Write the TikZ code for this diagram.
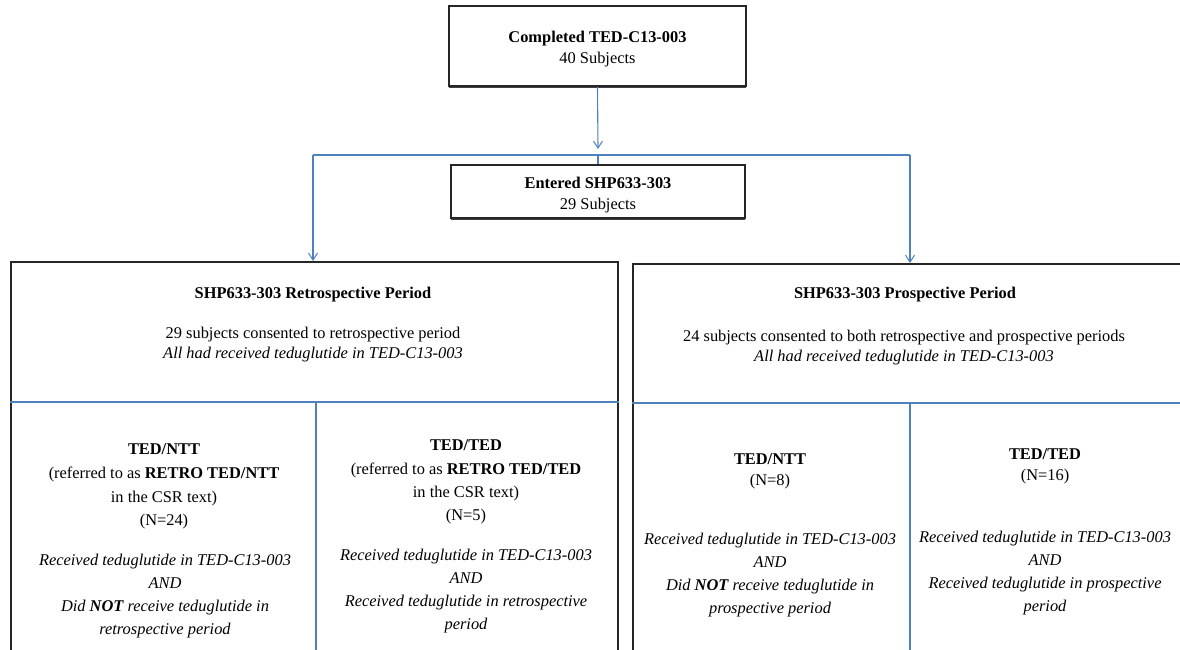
\documentclass[tikz,border=0pt]{standalone}
\usepackage{fontspec}
\setmainfont{Liberation Serif}
\usetikzlibrary{arrows.meta,shadows}
\definecolor{lineblue}{HTML}{4F81BD}
\definecolor{boxgray}{HTML}{262626}
\begin{document}
\begin{tikzpicture}[x=1pt,y=-1pt,
  txt/.style={align=center,font=\fontsize{16.4}{23}\selectfont,inner sep=0pt},
  smallbox/.style={draw=boxgray,line width=1.5pt,fill=white,align=center,
     font=\fontsize{16.4}{21}\selectfont,inner sep=0pt,
     drop shadow={shadow xshift=0pt,shadow yshift=-1.6pt,fill=black!75,opacity=1}},
  bigbox/.style={draw=boxgray,line width=1.5pt,inner sep=0pt},
  conn/.style={draw=lineblue,line width=1.1pt},
  arr/.style={conn,-{Straight Barb[length=7pt,width=9pt,line width=1pt]}},
  div/.style={draw=lineblue,line width=1.3pt}]
\useasboundingbox (0,0) rectangle (1180,649);
\begin{scope}
\clip (0,0) rectangle (1180,649);
% boxes
\node[smallbox,minimum width=297pt,minimum height=80pt] (top) at (597.5,46) {};
\node[txt,font=\fontsize{16.4}{21}\selectfont] (toptxt) at (597.5,49.5)
  {\textbf{Completed TED-C13-003}\\40 Subjects};
\node[smallbox,minimum width=294pt,minimum height=53pt] (entered) at (598,191.5) {};
\node[txt,font=\fontsize{16.4}{21}\selectfont] (enttxt) at (598,195)
  {\textbf{Entered SHP633-303}\\29 Subjects};
\node[bigbox,minimum width=607pt,minimum height=410pt,anchor=north west] (retro) at (10,261) {};
\node[bigbox,minimum width=570pt,minimum height=410pt,anchor=north west] (prosp) at (632,263) {};
% dividers
\draw[div] (retro.west |- 0,402) -- (retro.east |- 0,402);
\draw[div] (316,402) -- (316,660);
\draw[div] (prosp.west |- 0,403) -- (1190,403);
\draw[div] (910,403) -- (910,660);
% connectors
\coordinate (atip) at (598,149);
\coordinate (hl) at (313,155);
\coordinate (hm) at (598,155);
\coordinate (hr) at (910,155);
\draw[arr] (top.south) -- (atip);
\draw[conn] (hl) -- (hr);
\draw[conn] (hm) -- (entered.north);
\draw[arr] (hl) -- (hl |- retro.north);
\draw[arr] (hr) -- (hr |- prosp.north);
% upper texts
\node[txt] (rtitle) at (313,295) {\textbf{SHP633-303 Retrospective Period}};
\node[txt,font=\fontsize{16.4}{20}\selectfont] (rdesc) at (313,345)
  {29 subjects consented to retrospective period\\\textit{All had received teduglutide in TED-C13-003}};
\node[txt] (ptitle) at (905,295) {\textbf{SHP633-303 Prospective Period}};
\node[txt,font=\fontsize{16.4}{20}\selectfont] (pdesc) at (904,348)
  {24 subjects consented to both retrospective and prospective periods\\\textit{All had received teduglutide in TED-C13-003}};
% lower cells
\node[txt,font=\fontsize{16.4}{23.7}\selectfont] (c1a) at (164,486.5)
  {\textbf{TED/NTT}\\(referred to as \textbf{RETRO TED/NTT}\\in the CSR text)\\(N=24)};
\node[txt,font=\itshape\fontsize{16.4}{23}\selectfont] (c1b) at (165,596.5)
  {Received teduglutide in TED-C13-003\\AND\\Did \textbf{NOT} receive teduglutide in\\retrospective period};
\node[txt,font=\fontsize{16.4}{23.3}\selectfont] (c2a) at (466,482)
  {\textbf{TED/TED}\\(referred to as \textbf{RETRO TED/TED}\\in the CSR text)\\(N=5)};
\node[txt,font=\itshape\fontsize{16.4}{23}\selectfont] (c2b) at (466,591.5)
  {Received teduglutide in TED-C13-003\\AND\\Received teduglutide in retrospective\\period};
\node[txt,font=\fontsize{16.4}{21}\selectfont] (c3a) at (770,471.5)
  {\textbf{TED/NTT}\\(N=8)};
\node[txt,font=\itshape\fontsize{16.4}{23}\selectfont] (c3b) at (770,575.5)
  {Received teduglutide in TED-C13-003\\AND\\Did \textbf{NOT} receive teduglutide in\\prospective period};
\node[txt,font=\fontsize{16.4}{21}\selectfont] (c4a) at (1045,466.5)
  {\textbf{TED/TED}\\(N=16)};
\node[txt,font=\itshape\fontsize{16.4}{23}\selectfont] (c4b) at (1045,573.5)
  {Received teduglutide in TED-C13-003\\AND\\Received teduglutide in prospective\\period};
\end{scope}
\end{tikzpicture}
\end{document}
